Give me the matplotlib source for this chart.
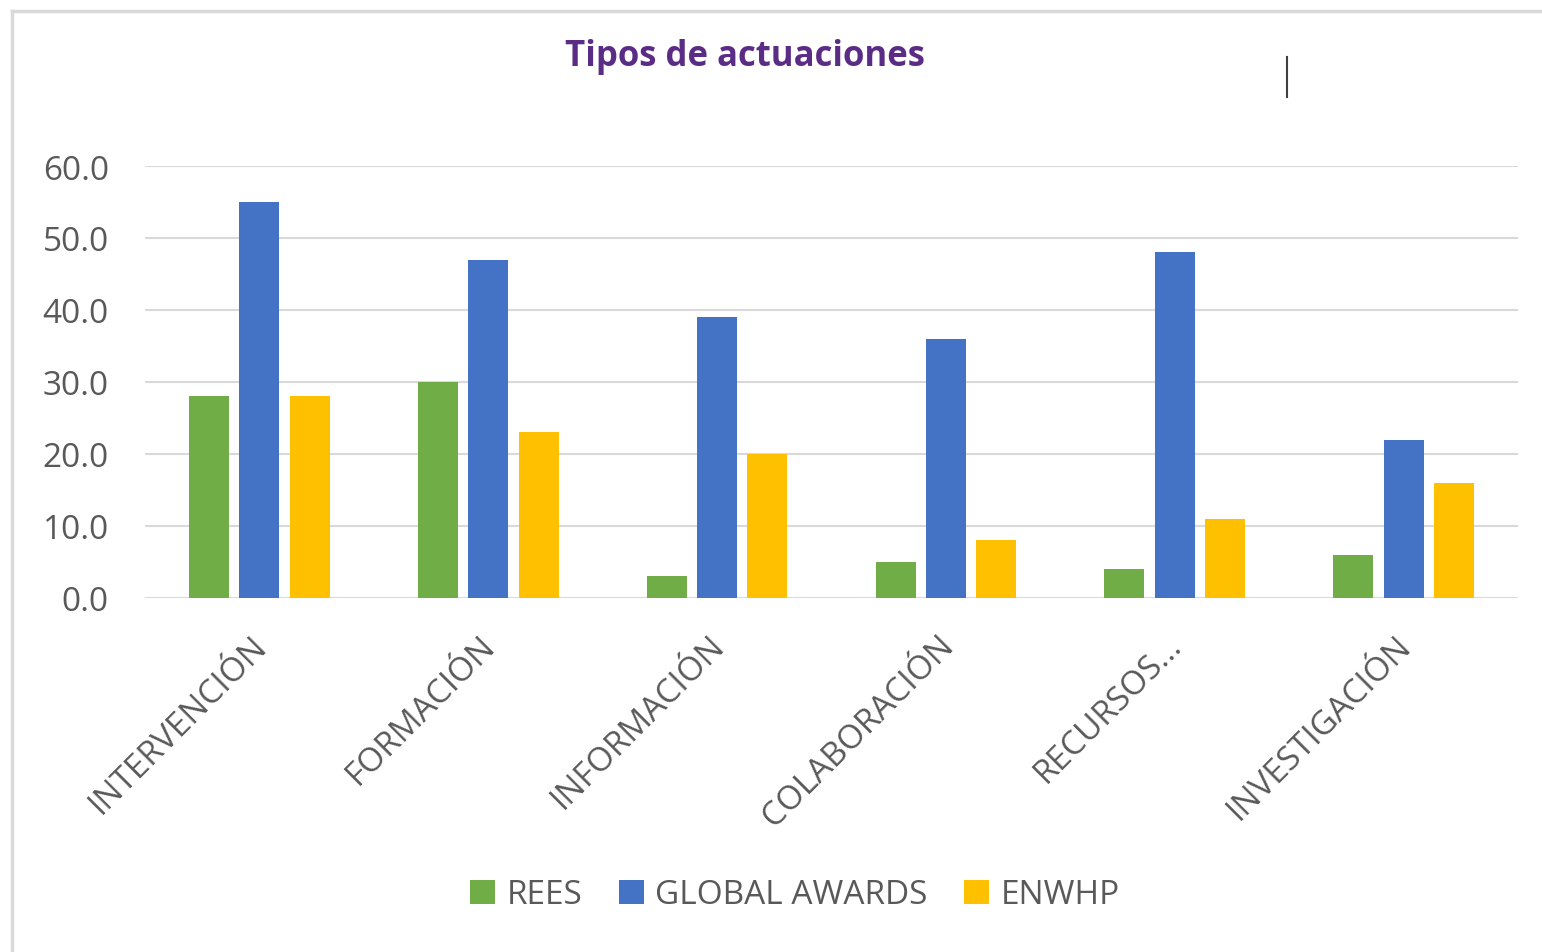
import matplotlib.pyplot as plt
import numpy as np

# Datos
categorias = ['INTERVENCIÓN', 'FORMACIÓN', 'INFORMACIÓN', 'COLABORACIÓN', 'RECURSOS...', 'INVESTIGACIÓN']
rees = [28, 30, 3, 5, 4, 6]
global_awards = [55, 47, 39, 36, 48, 22]
enwhp = [28, 23, 20, 8, 11, 16]
series = ['REES', 'GLOBAL AWARDS', 'ENWHP']
colores = ['#70AD47', '#4472C4', '#FFC000']

W, H = 1542, 953
fig = plt.figure(figsize=(W / 100, H / 100), dpi=100)

# Marco del gráfico
fig.add_artist(plt.Line2D([12 / W, 1], [1 - 12 / H, 1 - 12 / H], color='#d9d9d9', linewidth=2.5))
fig.add_artist(plt.Line2D([12 / W, 12 / W], [0, 1 - 12 / H], color='#d9d9d9', linewidth=2.5))
# Pequeña línea vertical (artefacto)
fig.add_artist(plt.Line2D([1287 / W, 1287 / W], [1 - 58 / H, 1 - 98 / H], color='#404040', linewidth=1.5))

ax = fig.add_axes([145 / W, 1 - 599 / H, (1518 - 145) / W, (599 - 167) / H])

x = np.arange(len(categorias))
ancho = 0.175
paso = 0.22
for i, (vals, nombre, c) in enumerate(zip([rees, global_awards, enwhp], series, colores)):
    ax.bar(x + (i - 1) * paso, vals, ancho, color=c, label=nombre, zorder=3)

ax.set_xlim(-0.5, len(categorias) - 0.5)
ax.set_ylim(0, 60)
ax.set_yticks(np.arange(0, 61, 10))
ax.set_yticklabels([f'{v:.1f}' for v in np.arange(0, 61, 10)])
ax.grid(axis='y', color='#d9d9d9', linewidth=1.5, zorder=0)
for s in ['top', 'right', 'left', 'bottom']:
    ax.spines[s].set_visible(False)
ax.tick_params(axis='y', length=0, colors='#595959', labelsize=24, pad=26)
ax.tick_params(axis='x', length=0, colors='#595959', pad=22)
for lbl in ax.get_yticklabels():
    lbl.set_fontfamily('Open Sans')

ax.set_xticks(x - 0.04)
ax.set_xticklabels(categorias, rotation=45, ha='right', rotation_mode='anchor',
                   fontsize=24, color='#595959', family='Open Sans')

# Título
fig.text(745 / W, 1 - 57 / H, 'Tipos de actuaciones', ha='center', va='center',
         fontsize=25, fontweight='bold', color='#5B2C86', family='Open Sans')

# Leyenda
fig.legend(loc='center', bbox_to_anchor=(795 / W, 1 - 896 / H), ncol=3, frameon=False,
           prop={'family': 'Open Sans', 'size': 24}, labelcolor='#595959',
           handlelength=0.75, handleheight=0.75, handletextpad=0.35, columnspacing=1.1)

fig.savefig('out.png', dpi=100, facecolor='white')
